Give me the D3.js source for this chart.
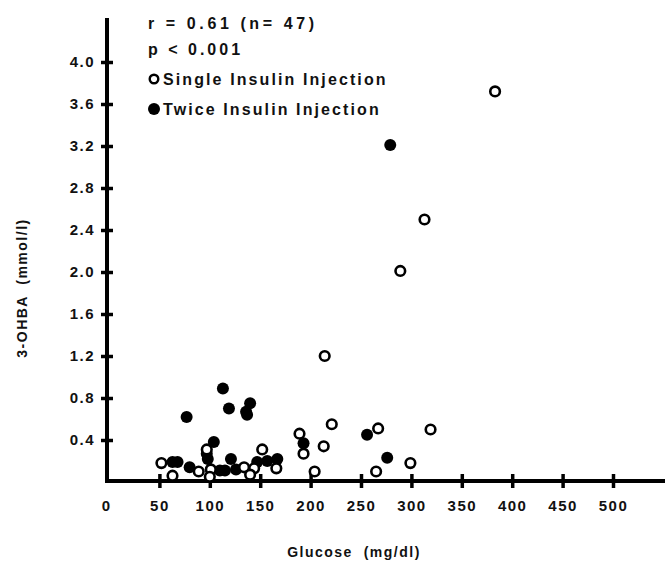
<!DOCTYPE html>
<html>
<head>
<meta charset="utf-8">
<script src="https://cdn.jsdelivr.net/npm/d3@7"></script>
<style>
  body { margin: 0; background: #fff; }
  text { font-family: "Liberation Sans", Arial, sans-serif; font-weight: bold; fill: #111; }
</style>
</head>
<body>
<div id="chart"></div>
<script>
// glucose (mg/dl), 3-OHBA (mmol/l)
const singleGlucose = [383, 313, 289, 214, 221, 189, 193, 213, 204, 267, 319, 265, 299, 52, 63, 89, 97, 101, 100, 134, 152, 144, 140, 166];
const singleOhba    = [3.72, 2.50, 2.01, 1.20, 0.55, 0.46, 0.27, 0.34, 0.10, 0.51, 0.50, 0.10, 0.18, 0.18, 0.06, 0.10, 0.31, 0.12, 0.05, 0.14, 0.31, 0.13, 0.07, 0.13];
const twiceGlucose  = [279, 113, 119, 136, 140, 137, 77, 104, 98, 97, 63, 68, 80, 110, 115, 121, 126, 147, 157, 167, 193, 256, 276];
const twiceOhba     = [3.21, 0.89, 0.70, 0.67, 0.75, 0.64, 0.62, 0.38, 0.22, 0.27, 0.19, 0.19, 0.14, 0.11, 0.11, 0.22, 0.12, 0.19, 0.20, 0.22, 0.37, 0.45, 0.23];
const xTicks = [50, 100, 150, 200, 250, 300, 350, 400, 450, 500];
const yTicks = [0.4, 0.8, 1.2, 1.6, 2.0, 2.4, 2.8, 3.2, 3.6, 4.0];
const statLines = ["r = 0.61 (n= 47)", "p < 0.001"];
const legendLabels = ["Single Insulin Injection", "Twice Insulin Injection"];

const width = 665, height = 566;
const svg = d3.select("#chart").append("svg")
  .attr("width", width).attr("height", height);

const x = d3.scaleLinear().domain([0, 550]).range([109, 663.4]);
const y = d3.scaleLinear().domain([0, 4]).range([482, 62]);

// axes lines
svg.append("line")
  .attr("x1", 107).attr("x2", 107)
  .attr("y1", 18).attr("y2", 483)
  .attr("stroke", "#000").attr("stroke-width", 4);
svg.append("line")
  .attr("x1", 105).attr("x2", 665)
  .attr("y1", 481).attr("y2", 481)
  .attr("stroke", "#000").attr("stroke-width", 4);

// x ticks
const xAxis = d3.axisBottom(x).tickValues(xTicks).tickSize(0).tickFormat(d3.format("d"));
const gx = svg.append("g").attr("transform", "translate(0,481)").call(xAxis);
gx.select(".domain").remove();
gx.selectAll("text").attr("dy", 0).attr("y", 30).style("font-size", "15px").style("letter-spacing", "1.5px");
gx.selectAll(".tick").append("line")
  .attr("y1", -7).attr("y2", 7)
  .attr("stroke", "#000").attr("stroke-width", 3.5);
svg.append("text")
  .attr("x", 106).attr("y", 511)
  .attr("text-anchor", "middle")
  .style("font-size", "15px")
  .text("0");

// y ticks
const yAxis = d3.axisLeft(y).tickValues(yTicks).tickSize(0).tickFormat(d3.format(".1f"));
const gy = svg.append("g").attr("transform", "translate(107,0)").call(yAxis);
gy.select(".domain").remove();
gy.selectAll("text").attr("x", -12).style("font-size", "15px").style("letter-spacing", "1.5px");
gy.selectAll(".tick").append("line")
  .attr("x1", -6).attr("x2", 6)
  .attr("stroke", "#000").attr("stroke-width", 3.5);

// axis titles
svg.append("text")
  .attr("x", 354).attr("y", 557)
  .attr("text-anchor", "middle")
  .style("font-size", "14px").style("letter-spacing", "1.5px")
  .attr("xml:space", "preserve")
  .text("Glucose  (mg/dl)");
svg.append("text")
  .attr("transform", "translate(27,288) rotate(-90)")
  .attr("text-anchor", "middle")
  .style("font-size", "14px").style("letter-spacing", "1.5px")
  .attr("xml:space", "preserve")
  .text("3-OHBA  (mmol/l)");

// points
const single = singleGlucose.map((g, i) => ({ g: g, v: singleOhba[i] }));
const twice = twiceGlucose.map((g, i) => ({ g: g, v: twiceOhba[i] }));

svg.selectAll("circle.twice")
  .data(twice)
  .enter()
  .append("circle")
  .attr("class", "twice")
  .attr("cx", d => x(d.g))
  .attr("cy", d => y(d.v))
  .attr("r", 6)
  .attr("fill", "#000");

svg.selectAll("circle.single")
  .data(single)
  .enter()
  .append("circle")
  .attr("class", "single")
  .attr("cx", d => x(d.g))
  .attr("cy", d => y(d.v))
  .attr("r", 4.8)
  .attr("fill", "#fff")
  .attr("stroke", "#000")
  .attr("stroke-width", 2.6);

// stats + legend
svg.selectAll("text.stat")
  .data(statLines)
  .enter()
  .append("text")
  .attr("class", "stat")
  .attr("x", 148)
  .attr("y", (d, i) => 29 + i * 26)
  .style("font-size", "16px").style("letter-spacing", (d, i) => i === 0 ? "3.6px" : "3px")
  .attr("xml:space", "preserve")
  .text(d => d);

const leg = svg.selectAll("g.legend")
  .data(legendLabels)
  .enter()
  .append("g")
  .attr("class", "legend")
  .attr("transform", (d, i) => "translate(154," + (79 + i * 30) + ")");
leg.append("circle")
  .attr("r", (d, i) => i === 0 ? 4.3 : 6)
  .attr("fill", (d, i) => i === 0 ? "#fff" : "#000")
  .attr("stroke", "#000")
  .attr("stroke-width", (d, i) => i === 0 ? 2.4 : 0);
leg.append("text")
  .attr("x", 9)
  .attr("y", 5.5)
  .style("font-size", "16px").style("letter-spacing", "2.1px")
  .text(d => d);
</script>
</body>
</html>
